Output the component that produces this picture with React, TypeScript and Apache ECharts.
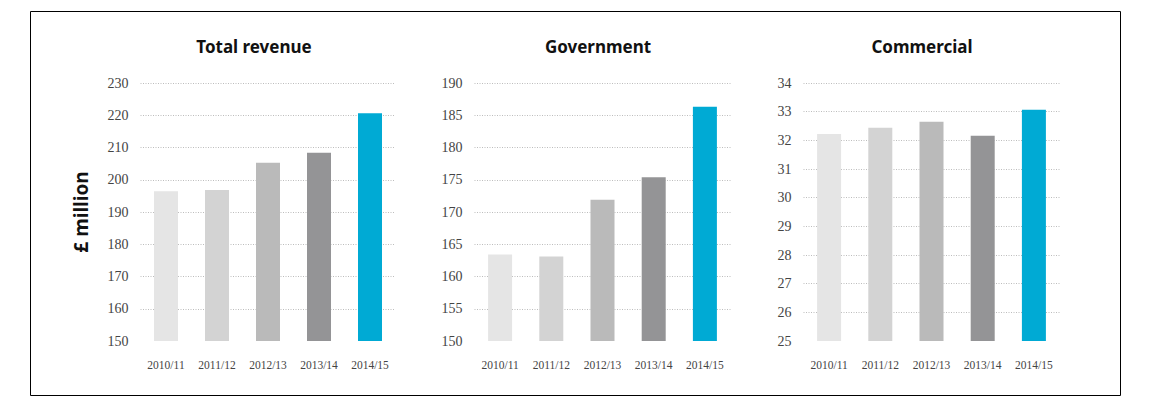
import React, { useEffect, useRef } from "react";
import * as echarts from "echarts";

const categories = ["2010/11", "2011/12", "2012/13", "2013/14", "2014/15"];
const titles = ["Total revenue", "Government", "Commercial"];
const totalRevenue = [196.4, 196.8, 205.3, 208.4, 220.6];
const government = [163.4, 163.1, 171.9, 175.4, 186.3];
const commercial = [32.22, 32.44, 32.65, 32.16, 33.07];
const axisRanges = [
  { min: 150, max: 230, interval: 10 },
  { min: 150, max: 190, interval: 5 },
  { min: 25, max: 34, interval: 1 },
];
const barColors = ["#e5e5e5", "#d3d3d3", "#bababa", "#949496", "#00aad4"];
const seriesData = [totalRevenue, government, commercial];

export default function App() {
  const ref = useRef<HTMLDivElement>(null);
  useEffect(() => {
    if (!ref.current) return;
    const chart = echarts.init(ref.current, null, { renderer: "svg" });
    const grids = [
      { left: 140.5, width: 255, top: 83, height: 258 },
      { left: 474.5, width: 256, top: 83, height: 258 },
      { left: 803.5, width: 256, top: 83, height: 258 },
    ];
    const titleX = [254, 598, 922];
    const labelFont = "Liberation Serif";
    const option: any = {
      animation: false,
      backgroundColor: "#ffffff",
      grid: grids.map((g) => ({ ...g, containLabel: false })),
      xAxis: grids.map((_, i) => ({
        type: "category",
        gridIndex: i,
        data: categories,
        axisLine: { show: false },
        axisTick: { show: false },
        axisLabel: {
          fontFamily: labelFont,
          fontSize: 11.5,
          color: "#444",
          margin: 18,
        },
      })),
      yAxis: grids.map((_, i) => ({
        type: "value",
        gridIndex: i,
        min: axisRanges[i].min,
        max: axisRanges[i].max,
        interval: axisRanges[i].interval,
        axisLine: { show: false },
        axisTick: { show: false },
        axisLabel: {
          fontFamily: labelFont,
          fontSize: 14,
          color: "#444",
          margin: 12,
        },
        splitLine: {
          show: true,
          showMinLine: false,
          lineStyle: { color: "#bdbdbd", type: [1, 1.5], width: 1 },
        },
        ...(i === 0
          ? {
              name: "£ million",
              nameLocation: "middle",
              nameRotate: 90,
              nameGap: 50,
              nameTextStyle: {
                fontFamily: "Noto Sans",
                fontWeight: "bold",
                fontSize: 19,
                color: "#111",
              },
            }
          : {}),
      })),
      series: seriesData.map((d, i) => ({
        type: "bar",
        xAxisIndex: i,
        yAxisIndex: i,
        barWidth: 24,
        data: d.map((v, j) => ({ value: v, itemStyle: { color: barColors[j] } })),
      })),
      graphic: [
        {
          type: "rect",
          shape: { x: 30.5, y: 11.5, width: 1090, height: 384 },
          style: { fill: "none", stroke: "#000", lineWidth: 1 },
          silent: true,
        },
        ...titles.map((t, i) => ({
          type: "text",
          x: titleX[i],
          y: 46,
          style: {
            text: t,
            align: "center",
            verticalAlign: "middle",
            fontFamily: "Noto Sans",
            fontWeight: "bold",
            fontSize: 17,
            fill: "#111",
          },
        })),
      ],
    };
    chart.setOption(option);
    return () => chart.dispose();
  }, []);
  return (
    <div
      ref={ref}
      style={{ position: "absolute", left: 0, top: 0, width: 1151, height: 401 }}
    />
  );
}
